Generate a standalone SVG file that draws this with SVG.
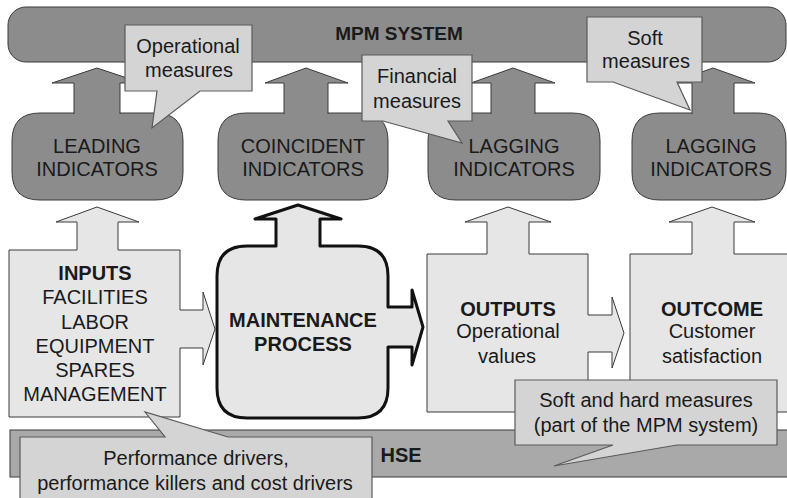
<svg xmlns="http://www.w3.org/2000/svg" width="787" height="498" viewBox="0 0 787 498">
<style>
text{font-family:"Liberation Sans",Arial,sans-serif;font-size:20px;fill:#1a1a1a;text-anchor:middle}
.b{font-weight:bold}
.dark{fill:#8c8c8c;stroke:#3a3a3a;stroke-width:1}
.light{fill:#e6e6e6;stroke:#3a3a3a;stroke-width:1}
.thick{fill:#e6e6e6;stroke:#111;stroke-width:3;stroke-linejoin:round}
.call{fill:#d4d4d4;stroke:#5a5a5a;stroke-width:1.2}
.hse{fill:#a9a9a9;stroke:#3a3a3a;stroke-width:1}
</style>
<rect width="787" height="498" fill="#fff"/>
<g id="mpm">
<rect class="dark" x="8" y="7" width="778" height="55" rx="18"/>
<text class="b" x="399" y="40" style="font-size:19px">MPM SYSTEM</text>
</g>
<g id="leading">
<path class="dark" d="M40,113 H155 Q183,113 183,141 V172 Q183,200 155,200 H40 Q12,200 12,172 V141 Q12,113 40,113 Z"/>
<text x="97" y="153">LEADING</text><text x="97" y="176">INDICATORS</text>
</g>
<g id="coincident">
<path class="dark" d="M246,113 H360 Q388,113 388,141 V172 Q388,200 360,200 H246 Q218,200 218,172 V141 Q218,113 246,113 Z"/>
<text x="303" y="153">COINCIDENT</text><text x="303" y="176">INDICATORS</text>
</g>
<g id="lagging1">
<path class="dark" d="M456,113 H572 Q600,113 600,141 V172 Q600,200 572,200 H456 Q428,200 428,172 V141 Q428,113 456,113 Z"/>
<text x="514" y="153">LAGGING</text><text x="514" y="176">INDICATORS</text>
</g>
<g id="lagging2">
<path class="dark" d="M660,113 H758 Q786,113 786,141 V172 Q786,200 758,200 H660 Q632,200 632,172 V141 Q632,113 660,113 Z"/>
<text x="711" y="153">LAGGING</text><text x="711" y="176">INDICATORS</text>
</g>
<g id="connectors">
<path class="dark" d="M74,114 V83 H52 L97,68 L142,83 H120 V114"/>
<path class="dark" d="M284,114 V83 H265 L306,68 L348,83 H328 V114"/>
<path class="dark" d="M491,114 V83 H471 L513,68 L555,83 H535 V114"/>
<path class="dark" d="M692,114 V83 H671 L713,68 L755,83 H734 V114"/>
</g>
<g id="callout-operational">
<path class="call" d="M125,25 H252 V91 H200 L152,128 L157,91 H125 Z"/>
<text x="188" y="53">Operational</text><text x="189" y="77">measures</text>
</g>
<g id="callout-financial">
<path class="call" d="M362,55 H472 V121 H448 L462,143 L383,121 H362 Z"/>
<text x="417" y="83">Financial</text><text x="417" y="108">measures</text>
</g>
<g id="callout-soft">
<path class="call" d="M587,17 H702 V82 H677 L690,110 L613,82 H587 Z"/>
<text x="645" y="45">Soft</text><text x="646" y="68">measures</text>
</g>
<g id="inputs">
<path class="light" d="M9,250 H77 V222 H56 L97,207 L139,222 H118 V250 H180 V310 H203 V292 L215,329 L203,365 V348 H180 V417 H9 Z"/>
<text class="b" x="95" y="280">INPUTS</text>
<text x="95" y="304">FACILITIES</text>
<text x="95" y="329">LABOR</text>
<text x="95" y="353">EQUIPMENT</text>
<text x="95" y="377">SPARES</text>
<text x="95" y="401">MANAGEMENT</text>
</g>
<g id="maintenance">
<path class="thick" d="M247,246 H276 V219 H255 L298,205 L341,219 H320 V246 H358 Q388,246 388,276 V307 H412 V290 L423,327 L412,365 V347 H388 V388 Q388,418 358,418 H247 Q217,418 217,388 V276 Q217,246 247,246 Z"/>
<text class="b" x="303" y="327">MAINTENANCE</text>
<text class="b" x="303" y="351">PROCESS</text>
</g>
<g id="outputs">
<path class="light" d="M427,254 H487 V222 H465 L508,207 L551,222 H529 V254 H588 V315 H612 V297 L624,333 L612,368 V352 H588 V412 H427 Z"/>
<text class="b" x="508" y="316">OUTPUTS</text>
<text x="508" y="338">Operational</text>
<text x="507" y="363">values</text>
</g>
<g id="outcome">
<path class="light" d="M630,254 H692 V222 H669 L712,207 L755,222 H734 V254 H800 V412 H630 Z"/>
<text class="b" x="712" y="316">OUTCOME</text>
<text x="712" y="338">Customer</text>
<text x="712" y="363">satisfaction</text>
</g>
<g id="hse">
<rect class="hse" x="10" y="430" width="790" height="47"/>
<text class="b" x="401" y="462">HSE</text>
</g>
<g id="callout-performance">
<path class="call" d="M20,437 H165 L145,412 L228,437 H372 V510 H20 Z"/>
<text x="196" y="465">Performance drivers,</text>
<text x="195" y="490">performance killers and cost drivers</text>
</g>
<g id="callout-softhard">
<path class="call" d="M515,380 H777 V445 H677 L554,466 L613,445 H515 Z"/>
<text x="646" y="407">Soft and hard measures</text>
<text x="646" y="432">(part of the MPM system)</text>
</g>
</svg>
